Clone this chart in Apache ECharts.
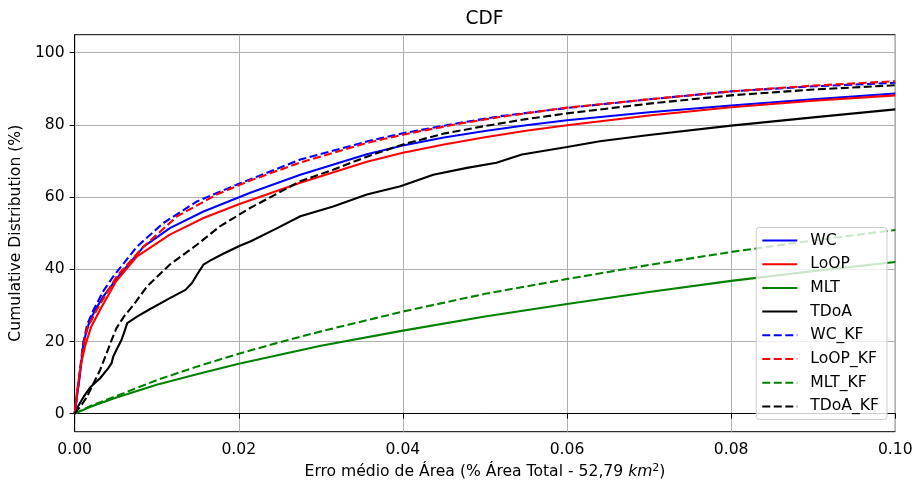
<!DOCTYPE html>
<html>
<head>
<meta charset="utf-8">
<script src="https://cdn.jsdelivr.net/npm/echarts@6/dist/echarts.min.js"></script>
<style>
    html, body { margin: 0; padding: 0; background: #fff; }
    #chart { width: 917px; height: 490px; }
</style>
</head>
<body>
<div id="chart"></div>
<script>
// curves, [erro, cdf %]
const wc = [[0,0],[0.0006,10],[0.0011,20],[0.0018,25.5],[0.0025,28.7],[0.0035,32.5],[0.0055,38.5],[0.0084,46.3],[0.0116,51.4],[0.0157,56],[0.0214,61.2],[0.0275,66.2],[0.0356,71.9],[0.04,74.3],[0.045,76.5],[0.05,78.3],[0.055,79.9],[0.06,81.3],[0.07,83.5],[0.08,85.4],[0.09,87.1],[0.1,88.7]]
const loop = [[0,0],[0.0004,8],[0.0008,14],[0.0013,19],[0.002,24],[0.0031,28.8],[0.005,36.5],[0.0076,43.6],[0.0116,49.6],[0.0157,54.2],[0.02,58],[0.0275,64],[0.0356,69.8],[0.04,72.3],[0.045,74.6],[0.05,76.6],[0.055,78.4],[0.06,79.9],[0.07,82.6],[0.08,84.9],[0.09,86.7],[0.1,88.2]]
const mlt = [[0,0],[0.002,2],[0.005,4.4],[0.01,8],[0.015,11],[0.02,13.8],[0.025,16.3],[0.03,18.8],[0.04,23],[0.05,26.9],[0.06,30.4],[0.07,33.7],[0.08,36.8],[0.09,39.5],[0.1,42]]
const tdoa = [[0,0],[0.0004,2],[0.0011,4.7],[0.0019,7.3],[0.0031,9.8],[0.0041,12.6],[0.0045,14],[0.0047,15.8],[0.0051,17.7],[0.0057,20.4],[0.006,22.3],[0.0064,25.1],[0.0076,26.9],[0.0092,29],[0.0116,32],[0.0135,34.3],[0.0143,36.2],[0.0149,38.5],[0.0157,41.3],[0.0165,42.4],[0.0181,44.3],[0.0202,46.6],[0.0214,47.7],[0.0245,51.2],[0.0275,54.7],[0.0315,57.4],[0.0356,60.7],[0.0397,63],[0.0437,66.2],[0.0478,68.1],[0.0514,69.5],[0.0545,71.8],[0.06,73.9],[0.064,75.5],[0.07,77.2],[0.08,79.8],[0.09,82.1],[0.1,84.3]]
const wcKf = [[0,0],[0.0005,9],[0.001,19],[0.0015,24.5],[0.0023,28.8],[0.0035,34],[0.0047,38],[0.0076,46.3],[0.0108,52.8],[0.0149,58.8],[0.0198,63.5],[0.0275,70.4],[0.0356,75.4],[0.04,77.7],[0.046,80.2],[0.0518,82.4],[0.06,84.7],[0.07,87.1],[0.08,89.3],[0.09,90.7],[0.1,91.7]]
const loopKf = [[0,0],[0.0005,9],[0.001,18],[0.0015,23.5],[0.0027,28.8],[0.0051,38],[0.0084,46.3],[0.0125,54.7],[0.0173,60.7],[0.0214,64.6],[0.0275,69.6],[0.0356,75],[0.04,77.3],[0.046,80],[0.0518,82.2],[0.06,84.8],[0.07,87.1],[0.08,89.3],[0.09,90.9],[0.1,92.1]]
const mltKf = [[0,0],[0.002,2.2],[0.005,4.8],[0.01,9.3],[0.015,13.1],[0.02,16.6],[0.025,19.8],[0.03,22.8],[0.04,28.3],[0.05,33.2],[0.06,37.3],[0.07,41.2],[0.08,44.8],[0.09,48],[0.1,50.9]]
const tdoaKf = [[0,0],[0.0003,1],[0.0007,1.9],[0.0015,4.7],[0.0023,8.4],[0.0031,12.1],[0.0039,16.8],[0.0045,20.4],[0.0051,23.7],[0.006,26.9],[0.0072,30.2],[0.0088,35.2],[0.0116,41.3],[0.0149,46.8],[0.0177,51.9],[0.0214,57],[0.0275,64.4],[0.0315,67.6],[0.0356,71.2],[0.04,74.6],[0.045,77.6],[0.05,79.7],[0.055,81.6],[0.06,83.2],[0.07,85.9],[0.08,88.2],[0.09,89.8],[0.1,91]]

const names = ['WC', 'LoOP', 'MLT', 'TDoA', 'WC_KF', 'LoOP_KF', 'MLT_KF', 'TDoA_KF']
const curves = [wc, loop, mlt, tdoa, wcKf, loopKf, mltKf, tdoaKf]
const colors = ['#0000ff', '#ff0000', '#008000', '#000000', '#0000ff', '#ff0000', '#008000', '#000000']
const yTicks = [0, 20, 40, 60, 80, 100]

const font = 'DejaVu Sans'
const fs = 15.6
const chart = echarts.init(document.getElementById('chart'))

chart.setOption({
    animation: false,
    textStyle: { fontFamily: font },
    title: {
        text: 'CDF',
        left: 460.5,
        top: 5,
        textStyle: { fontFamily: font, fontSize: 18.6, fontWeight: 'normal', color: '#000' },
    },
    grid: {
        left: 74.5,
        right: 21.7,
        top: 34.7,
        bottom: 58.3,
        show: true,
        borderColor: '#000',
        borderWidth: 1,
        backgroundColor: 'transparent',
    },
    legend: {
        orient: 'vertical',
        right: 30,
        top: 227.5,
        itemWidth: 35,
        itemHeight: 16,
        itemGap: 7.7,
        padding: [5, 8, 5, 5],
        backgroundColor: 'rgba(255,255,255,0.8)',
        borderColor: '#cccccc',
        borderWidth: 1,
        borderRadius: 3,
        itemStyle: { opacity: 0 },
        textStyle: { fontFamily: font, fontSize: fs, color: '#000', padding: [0, 0, 0, 8] },
        data: names,
    },
    xAxis: {
        type: 'value',
        min: 0,
        max: 0.1,
        interval: 0.02,
        name: '{a|Erro médio de Área (% Área Total - 52,79 }{i|km}{s|2}{a|)}',
        nameLocation: 'middle',
        nameGap: 29,
        nameTextStyle: {
            rich: {
                a: { fontFamily: font, fontSize: fs, color: '#000' },
                i: { fontFamily: font, fontSize: fs, fontStyle: 'italic', color: '#000' },
                s: { fontFamily: font, fontSize: 11, color: '#000', verticalAlign: 'top', padding: [0, 0, 7, 0] },
            },
        },
        axisLine: { show: true, lineStyle: { color: '#000', width: 1 } },
        axisTick: { show: true, length: 5, lineStyle: { color: '#000' } },
        axisLabel: {
            margin: 10,
            fontSize: fs,
            color: '#000',
            fontFamily: font,
            formatter: v => v.toFixed(2),
        },
        splitLine: { show: true, lineStyle: { color: '#b0b0b0', width: 1 } },
    },
    yAxis: {
        type: 'value',
        min: -5,
        max: 105,
        name: 'Cumulative Distribution (%)',
        nameLocation: 'middle',
        nameGap: 48.5,
        nameTextStyle: { fontFamily: font, fontSize: fs, color: '#000' },
        axisLine: { show: true, lineStyle: { color: '#000', width: 1 } },
        axisTick: { show: true, length: 5, customValues: yTicks, lineStyle: { color: '#000' } },
        axisLabel: { margin: 10, fontSize: fs, color: '#000', fontFamily: font, customValues: yTicks },
        splitLine: { show: true, lineStyle: { color: '#b0b0b0', width: 1 } },
    },
    series: curves.map((data, i) => ({
        name: names[i],
        type: 'line',
        data: data,
        symbol: 'none',
        clip: true,
        color: colors[i],
        lineStyle: {
            color: colors[i],
            width: 2.1,
            type: i < 4 ? 'solid' : [8, 3.5],
        },
    })),
})
</script>
</body>
</html>
